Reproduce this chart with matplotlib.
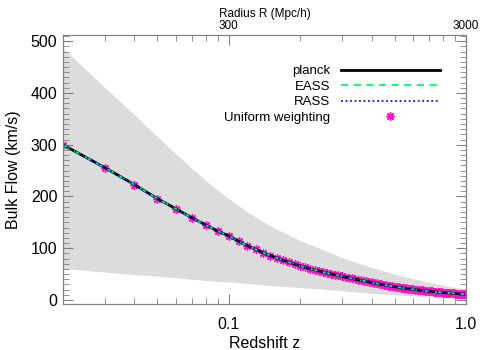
import numpy as np
import matplotlib
matplotlib.use('Agg')
import matplotlib.pyplot as plt
from matplotlib.ticker import FixedLocator, FixedFormatter, NullFormatter, MultipleLocator, LogLocator

plt.rcParams['font.family'] = ['Liberation Sans', 'DejaVu Sans']

# redshift grid of the curves and of the uniform-weighting points
redshift = [0.02, 0.03, 0.04, 0.05, 0.06, 0.07, 0.08, 0.09, 0.10,
            0.11, 0.12, 0.13, 0.14, 0.15, 0.16, 0.17, 0.18, 0.19, 0.20,
            0.21, 0.22, 0.23, 0.24, 0.25, 0.26, 0.27, 0.28, 0.29, 0.30,
            0.31, 0.32, 0.33, 0.34, 0.35, 0.36, 0.37, 0.38, 0.39, 0.40,
            0.41, 0.42, 0.43, 0.44, 0.45, 0.46, 0.47, 0.48, 0.49, 0.50,
            0.51, 0.52, 0.53, 0.54, 0.55, 0.56, 0.57, 0.58, 0.59, 0.60,
            0.61, 0.62, 0.63, 0.64, 0.65, 0.66, 0.67, 0.68, 0.69, 0.70,
            0.71, 0.72, 0.73, 0.74, 0.75, 0.76, 0.77, 0.78, 0.79, 0.80,
            0.81, 0.82, 0.83, 0.84, 0.85, 0.86, 0.87, 0.88, 0.89, 0.90,
            0.91, 0.92, 0.93, 0.94, 0.95, 0.96, 0.97, 0.98, 0.99, 1.00]

planck_flow = [300, 256, 223, 196, 176, 159, 145, 133, 124,
               113.7, 105.0, 97.7, 91.3, 85.7, 80.8, 76.5, 72.7, 69.2, 66.0,
               63.2, 60.6, 58.3, 56.1, 54.1, 52.2, 50.5, 48.9, 47.4, 46.0,
               44.4, 43.0, 41.6, 40.3, 39.1, 38.0, 36.9, 35.9, 34.9, 34.0,
               33.0, 32.0, 31.1, 30.2, 29.4, 28.6, 27.9, 27.2, 26.5, 25.8,
               25.2, 24.6, 24.1, 23.5, 23.0, 22.5, 22.0, 21.5, 21.1, 20.6,
               20.2, 19.8, 19.4, 19.1, 18.7, 18.4, 18.0, 17.7, 17.4, 17.1,
               16.8, 16.5, 16.2, 16.0, 15.7, 15.4, 15.2, 15.0, 14.7, 14.5,
               14.3, 14.1, 13.9, 13.7, 13.5, 13.3, 13.1, 12.9, 12.7, 12.5,
               12.4, 12.2, 12.0, 11.9, 11.7, 11.6, 11.4, 11.3, 11.2, 11.0]
eass_flow = planck_flow
rass_flow = planck_flow
uniform_flow = planck_flow

# cosmic variance band
band_z = [0.02, 0.03, 0.04, 0.05, 0.06, 0.07, 0.08, 0.09, 0.1, 0.12, 0.15,
          0.2, 0.25, 0.3, 0.4, 0.5, 0.6, 0.7, 0.85, 1.0]
band_upper = [487, 411, 358, 316, 282, 254, 231, 212, 196, 170, 143,
              115, 97, 82, 63, 50, 41, 34, 26, 21]
band_lower = [61, 54, 49, 46, 43, 40, 38, 36, 35, 32, 28,
              24, 21, 18, 13, 10, 8, 6, 4.5, 3]

bottom_ticks = [0.1, 1.0]
bottom_labels = ['0.1', '1.0']
top_labels = ['300', '3000']

axcol = '#808080'

fig = plt.figure(figsize=(4.91, 3.5), dpi=100)
ax = fig.add_axes([0.128, 0.131, 0.821, 0.769])

ax.fill_between(band_z, band_lower, band_upper, color='#dcdcdc', lw=0, zorder=1)
ax.plot(redshift, uniform_flow, ls='none', marker=(8, 2, 0), ms=6, mew=1,
        color='#ff10c0', label='Uniform weighting', zorder=2)
ax.plot(redshift, planck_flow, color='black', lw=2, label='planck', zorder=3)
ax.plot(redshift, eass_flow, color='#00ff66', lw=1.3, ls=(0, (4, 3)), label='EASS', zorder=4)
ax.plot(redshift, rass_flow, color='#1010ff', lw=1.3, ls=(0, (1, 1.5)), label='RASS', zorder=5)

ax.set_xscale('log')
ax.set_xlim(0.02, 1.0)
ax.set_ylim(-8, 512)
ax.xaxis.set_major_locator(FixedLocator(bottom_ticks))
ax.xaxis.set_major_formatter(FixedFormatter(bottom_labels))
ax.xaxis.set_minor_locator(LogLocator(base=10, subs=np.arange(2, 10)))
ax.xaxis.set_minor_formatter(NullFormatter())
ax.yaxis.set_major_locator(MultipleLocator(100))
ax.yaxis.set_minor_locator(MultipleLocator(10))

for s in ax.spines.values():
    s.set_color(axcol)
ax.tick_params(which='both', direction='in', color=axcol, labelsize=11.5, right=True)
ax.tick_params(which='major', length=7)
ax.tick_params(which='minor', length=4)
ax.tick_params(axis='x', pad=9)
ax.tick_params(axis='y', pad=4)

ax.set_xlabel('Redshift z', fontsize=11.5, labelpad=3)
ax.set_ylabel('Bulk Flow (km/s)', fontsize=11.5, labelpad=7)

ax2 = ax.twiny()
ax2.set_xscale('log')
ax2.set_xlim(ax.get_xlim())
ax2.xaxis.set_major_locator(FixedLocator(bottom_ticks))
ax2.xaxis.set_major_formatter(FixedFormatter(top_labels))
ax2.xaxis.set_minor_locator(LogLocator(base=10, subs=np.arange(2, 10)))
ax2.xaxis.set_minor_formatter(NullFormatter())
ax2.tick_params(which='both', direction='in', color=axcol, labelsize=8.5, pad=2)
ax2.tick_params(which='major', length=7)
ax2.tick_params(which='minor', length=4)
ax2.set_xlabel('Radius R (Mpc/h)', fontsize=8.5, labelpad=2.5)
for s in ax2.spines.values():
    s.set_color(axcol)

h, l = ax.get_legend_handles_labels()
order = [1, 2, 3, 0]
ax.legend([h[i] for i in order], [l[i] for i in order], loc='upper right',
          bbox_to_anchor=(0.935, 0.888), frameon=False, markerfirst=False,
          fontsize=9.5, handlelength=7.5, labelspacing=0.25, borderpad=0,
          borderaxespad=0, handletextpad=0.8)

fig.savefig('out.png', dpi=100)
